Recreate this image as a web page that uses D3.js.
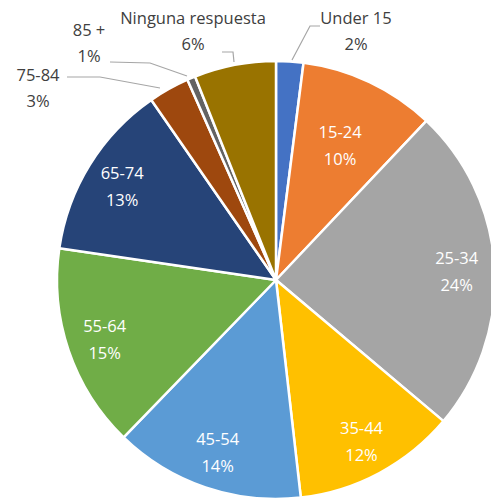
<!DOCTYPE html>
<html>
<head>
<meta charset="utf-8">
<script src="https://cdn.jsdelivr.net/npm/d3@7"></script>
<style>
  body { margin: 0; background: #fff; }
  svg { display: block; }
  text { font-family: "Open Sans", sans-serif; }
</style>
</head>
<body>
<div id="chart"></div>
<script>
// data
var categories = ["Under 15", "15-24", "25-34", "35-44", "45-54", "55-64", "65-74", "75-84", "85 +", "Ninguna respuesta"];
var percents = [2, 10, 24, 12, 14, 15, 13, 3, 0.6, 6];
var colours = ["#4472C4", "#ED7D31", "#A5A5A5", "#FFC000", "#5B9BD5", "#70AD47", "#264478", "#9E480E", "#636363", "#997300"];

var largeur = 491, hauteur = 498;
var cx = 276, cy = 280, rayon = 219;

var svg = d3.select("#chart")
  .append("svg")
  .attr("width", largeur)
  .attr("height", hauteur);

var g = svg.append("g").attr("transform", "translate(" + cx + "," + cy + ")");

var rows = categories.map(function(c, i) { return { cat: c, val: percents[i], col: colours[i] }; });

var pie = d3.pie().sort(null).value(function(d) { return d.val; });
var arc = d3.arc().innerRadius(0).outerRadius(rayon);
var arcs = pie(rows);

// slices
g.selectAll("path")
  .data(arcs)
  .enter()
  .append("path")
  .attr("d", arc)
  .attr("fill", function(d) { return d.data.col; })
  .attr("stroke", "#fff")
  .attr("stroke-width", 2.5)
  .attr("stroke-linejoin", "round");

// inside labels (big slices)
function labelRadius(d) {
  if (d.data.cat === "15-24") return 150;
  return 181;
}
var inside = arcs.filter(function(d) { return d.data.val >= 10; });
inside.forEach(function(d) {
  var a = (d.startAngle + d.endAngle) / 2;
  var r = labelRadius(d);
  var x = Math.sin(a) * r, y = -Math.cos(a) * r;
  var t = g.append("text")
    .attr("text-anchor", "middle")
    .attr("fill", "#fff")
    .attr("font-size", 16.5);
  t.append("tspan").attr("x", x).attr("y", y - 6).text(d.data.cat);
  t.append("tspan").attr("x", x).attr("y", y + 21).text(Math.round(d.data.val) + "%");
});

// outside labels with leader lines (small slices)
var outside = {
  "Under 15": { x: 356, y: 24, line: [[292, 60], [310, 26], [320, 26]] },
  "Ninguna respuesta": { x: 193, y: 24, line: [[222, 52], [233, 52], [234, 62]] },
  "85 +": { x: 89, y: 36, line: [[110, 62], [150, 63], [187, 76]] },
  "75-84": { x: 38, y: 81, line: [[67, 77], [100, 77], [160, 88]] }
};
var ligne = d3.line();
arcs.filter(function(d) { return outside[d.data.cat]; }).forEach(function(d) {
  var o = outside[d.data.cat];
  svg.append("path")
    .attr("d", ligne(o.line))
    .attr("fill", "none")
    .attr("stroke", "#a6a6a6")
    .attr("stroke-width", 1.2);
  var t = svg.append("text")
    .attr("text-anchor", "middle")
    .attr("fill", "#404040")
    .attr("font-size", 16.5);
  t.append("tspan").attr("x", o.x).attr("y", o.y).text(d.data.cat);
  t.append("tspan").attr("x", o.x).attr("y", o.y + 26).text(Math.max(1, Math.round(d.data.val)) + "%");
});
</script>
</body>
</html>
